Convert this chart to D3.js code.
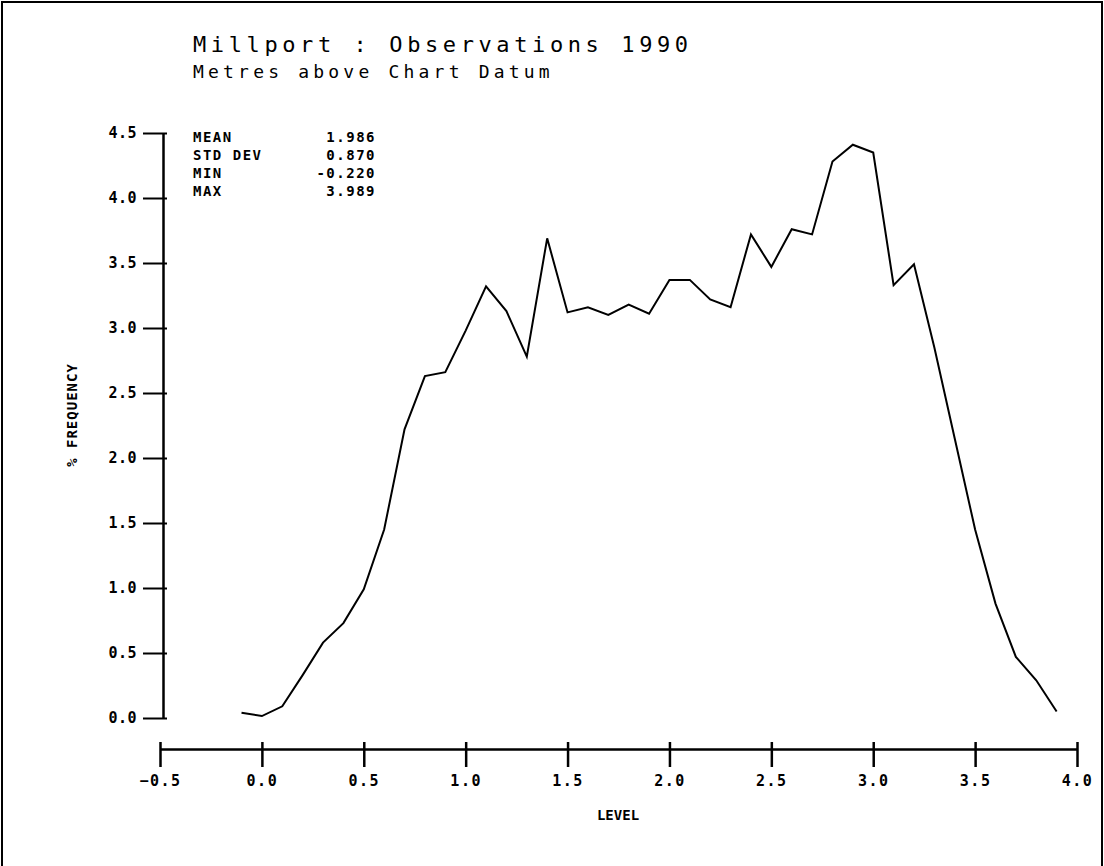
<!DOCTYPE html>
<html><head><meta charset="utf-8">
<script src="https://cdn.jsdelivr.net/npm/d3@7"></script>
<style>body{margin:0;background:#fff}svg{display:block}</style>
</head><body>
<script>
const levels = [-0.1,0.0,0.1,0.2,0.3,0.4,0.5,0.6,0.7,0.8,0.9,1.0,1.1,1.2,1.3,1.4,1.5,1.6,1.7,1.8,1.9,2.0,2.1,2.2,2.3,2.4,2.5,2.6,2.7,2.8,2.9,3.0,3.1,3.2,3.3,3.4,3.5,3.6,3.7,3.8,3.9];
const frequency = [0.04,0.015,0.09,0.33,0.58,0.73,0.99,1.45,2.22,2.63,2.66,2.98,3.32,3.13,2.78,3.69,3.12,3.16,3.10,3.18,3.11,3.37,3.37,3.22,3.16,3.72,3.47,3.76,3.72,4.28,4.41,4.35,3.33,3.49,2.85,2.15,1.45,0.88,0.47,0.29,0.05];
const xTicks = [-0.5,0.0,0.5,1.0,1.5,2.0,2.5,3.0,3.5,4.0];
const yTicks = [0.0,0.5,1.0,1.5,2.0,2.5,3.0,3.5,4.0,4.5];
const statNames = ["MEAN","STD DEV","MIN","MAX"];
const statValues = ["1.986","0.870","-0.220","3.989"];
const title = "Millport : Observations 1990";
const subtitle = "Metres above Chart Datum";

const W = 1104, H = 866;
const svg = d3.select("body").append("svg").attr("width", W).attr("height", H);

// frame
svg.append("path").attr("d", `M2,${H} L2,2 L1102,2 L1102,${H}`)
  .attr("fill","none").attr("stroke","#000").attr("stroke-width",2);

const x = d3.scaleLinear().domain([-0.5, 4.0]).range([160, 1077]);
const y = d3.scaleLinear().domain([0, 4.5]).range([718, 133]);
const yAxisX = 163, xAxisY = 749;

const mono = "'DejaVu Sans Mono', monospace";

// y axis
const yg = svg.append("g").attr("transform", `translate(${yAxisX},0)`);
yg.call(d3.axisLeft(y).tickValues(yTicks).tickFormat(d3.format(".1f")).tickSize(20).tickPadding(6).tickSizeOuter(0));
yg.select(".domain").attr("stroke-width", 2.5);
yg.selectAll(".tick line").attr("stroke-width", 2).attr("x2", -20).attr("x1", 4);
yg.selectAll(".tick text").attr("font-family", mono).attr("font-weight","bold").attr("font-size", 15)
  .attr("letter-spacing", 0.5).attr("fill","#000");

// x axis
const xg = svg.append("g").attr("transform", `translate(0,${xAxisY})`);
xg.call(d3.axisBottom(x).tickValues(xTicks).tickFormat(d3.format(".1f")).tickSize(18).tickPadding(8).tickSizeOuter(0));
xg.select(".domain").attr("stroke-width", 2.5);
xg.selectAll(".tick line").attr("stroke-width", 2.5).attr("y1", -7);
xg.selectAll(".tick text").attr("font-family", mono).attr("font-weight","bold").attr("font-size", 15)
  .attr("letter-spacing", 1.5).attr("fill","#000");

// line
const line = d3.line().x((d,i)=>x(levels[i])).y(d=>y(d));
svg.append("path").datum(frequency).attr("d", line)
  .attr("fill","none").attr("stroke","#000").attr("stroke-width",2).attr("stroke-linejoin","miter");

// titles
svg.append("text").attr("x",193).attr("y",52).text(title)
  .attr("font-family",mono).attr("font-size",22).attr("letter-spacing",4.6);
svg.append("text").attr("x",193).attr("y",78).text(subtitle)
  .attr("font-family",mono).attr("font-size",18).attr("letter-spacing",4.2);

// stats
statNames.forEach((n,i)=>{
  const yy = 142 + i*18;
  svg.append("text").attr("x",193).attr("y",yy).text(n)
    .attr("font-family",mono).attr("font-weight","bold").attr("font-size",14).attr("letter-spacing",1.5);
  svg.append("text").attr("x",376).attr("y",yy).attr("text-anchor","end").text(statValues[i])
    .attr("font-family",mono).attr("font-weight","bold").attr("font-size",14).attr("letter-spacing",1.5);
});

// axis titles
svg.append("text").attr("transform","translate(77,415) rotate(-90)").attr("text-anchor","middle")
  .text("% FREQUENCY").attr("font-family",mono).attr("font-weight","bold").attr("font-size",14).attr("letter-spacing",1);
svg.append("text").attr("x",618).attr("y",820).attr("text-anchor","middle")
  .text("LEVEL").attr("font-family",mono).attr("font-weight","bold").attr("font-size",14);
</script>
</body></html>
